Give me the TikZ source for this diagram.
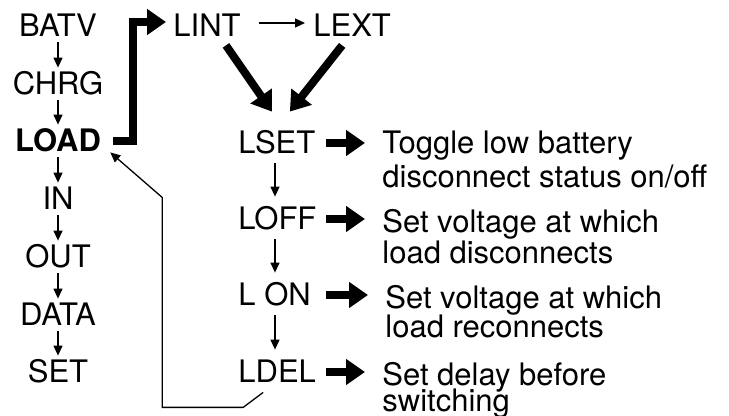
\documentclass[tikz,border=0pt]{standalone}
\usepackage{fontspec}
\setmainfont{TeX Gyre Heros}
\usetikzlibrary{arrows.meta}

\begin{document}
\begin{tikzpicture}[x=0.5pt,y=-0.5pt,
  item/.style={inner sep=0pt,text height=11pt,text depth=0pt,font=\fontsize{15.5}{14.5}\selectfont},
  note/.style={inner sep=0pt,anchor=north west,align=left,font=\fontsize{15.5}{14.5}\selectfont},
  slim/.style={line width=0.65pt,-{Triangle[length=5pt,width=4.5pt]}},
  fat/.style={line width=4pt,-{Triangle[length=9.5pt,width=12.5pt]}}]
  \useasboundingbox (0,0) rectangle (729,416);

  % Main menu column
  \node[item] (BATV) at (58,26) {BATV};
  \node[item] (CHRG) at (58,84) {CHRG};
  \node[item,font=\fontsize{15.5}{14.5}\selectfont\bfseries] (LOAD) at (58,141) {LOAD};
  \node[item] (IN) at (58,199) {IN};
  \node[item] (OUT) at (58,257) {OUT};
  \node[item] (DATA) at (58,315) {DATA};
  \node[item] (SET) at (58,372) {SET};

  % Stepping down the main menu
  \draw[slim,shorten <=2.5pt,shorten >=2.5pt] (BATV) -- (CHRG);
  \draw[slim,shorten <=2.5pt,shorten >=2.5pt] (CHRG) -- (LOAD);
  \draw[slim,shorten <=2.5pt,shorten >=2.5pt] (LOAD) -- (IN);
  \draw[slim,shorten <=2.5pt,shorten >=2.5pt] (IN) -- (OUT);
  \draw[slim,shorten <=2.5pt,shorten >=2.5pt] (OUT) -- (DATA);
  \draw[slim,shorten <=2.5pt,shorten >=2.5pt] (DATA) -- (SET);

  % Load sub menu
  \node[item,anchor=west] (LINT) at (173,26) {LINT};
  \node[item,anchor=west] (LEXT) at (313,26) {LEXT};
  \node[item,anchor=west] (LSET) at (238,143) {LSET};
  \node[item,anchor=west] (LOFF) at (238,219) {LOFF};
  \node[item,anchor=west] (LON) at (238,295) {L ON};
  \node[item,anchor=west] (LDEL) at (238,372) {LDEL};
  \coordinate (col) at (275,0);
  \coordinate (fatx) at (326,0);

  % Entering the sub menu
  \draw[fat] ([xshift=6pt]LOAD.east) -| ([xshift=-20pt,yshift=2pt]LINT.west) -- ([xshift=-3.5pt,yshift=2pt]LINT.west);
  \draw[slim,shorten <=9pt,shorten >=4pt] ([yshift=1.5pt]LINT.east) -- ([yshift=1.5pt]LEXT.west);
  \draw[fat] ([shift={(19,8)}]LINT.south) -- ([shift={(-5,-20)}]LSET.north);
  \draw[fat] ([shift={(-10,8)}]LEXT.south) -- ([shift={(13,-20)}]LSET.north);

  % Stepping down the sub menu
  \draw[slim,shorten <=4.5pt,shorten >=5.5pt] (col |- LSET.south) -- (col |- LOFF.north);
  \draw[slim,shorten <=4.5pt,shorten >=5.5pt] (col |- LOFF.south) -- (col |- LON.north);
  \draw[slim,shorten <=4.5pt,shorten >=5.5pt] (col |- LON.south) -- (col |- LDEL.north);

  % Back to LOAD
  \draw[slim] ([shift={(-14,9)}]LDEL.south) -- ++(-20,15) -| ++(-81,-210) -- ([xshift=4.5pt]LOAD.south east);

  % What each setting does
  \node[note] (DSET) at (382,131) {Toggle low battery\\[1pt]disconnect status on/off};
  \node[note] (DOFF) at (382,209) {Set voltage at which\\load disconnects};
  \node[note] (DON) at (385,285) {Set voltage at which\\[-1pt]load reconnects};
  \node[note] (DDEL) at (382,362) {Set delay before\\[-2.5pt]switching};
  \draw[fat,shorten >=8.5pt] (fatx |- LSET) -- (DSET.west |- LSET);
  \draw[fat,shorten >=8.5pt] (fatx |- LOFF) -- (DOFF.west |- LOFF);
  \draw[fat,shorten >=8.5pt] (fatx |- LON) -- (DON.west |- LON);
  \draw[fat,shorten >=8.5pt] (fatx |- LDEL) -- (DDEL.west |- LDEL);
\end{tikzpicture}
\end{document}
